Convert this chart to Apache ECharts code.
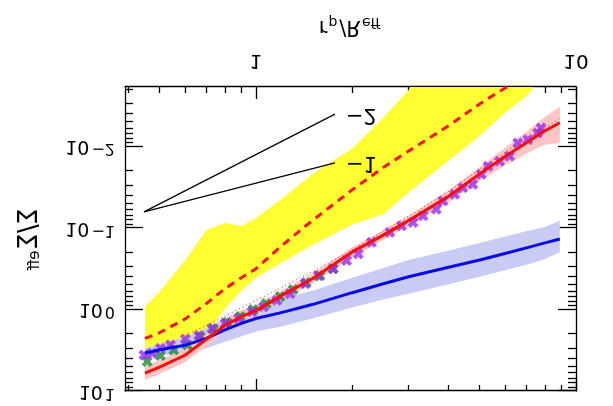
<!DOCTYPE html>
<html><head><meta charset="utf-8">
<script src="https://cdn.jsdelivr.net/npm/echarts@6/dist/echarts.min.js"></script>
<style>html,body{margin:0;padding:0;background:#fff;}#c{width:613px;height:406px;transform:scaleY(-1);}</style>
</head><body><div id="c"></div>
<script>
// ---- data ----
const xRange = [0.39, 10];
const yRange = [0.001854, 10];
const xTickMajor = [1, 10];
const xTickMinor = [0.4,0.5,0.6,0.7,0.8,0.9,2,3,4,5,6,7,8,9];
const yTickMajor = [0.01, 0.1, 1, 10];
const yTickMinor = [0.002,0.003,0.004,0.005,0.006,0.007,0.008,0.009,
  0.02,0.03,0.04,0.05,0.06,0.07,0.08,0.09,0.2,0.3,0.4,0.5,0.6,0.7,0.8,0.9,2,3,4,5,6,7,8,9];
const curveX = [0.45,0.5,0.6,0.7,0.8,0.9,1.0,1.2,1.5,2,2.5,3,4,5,6,7,8,8.9];
const redSolid = [6.03,5.10,3.64,2.32,1.57,1.22,1.03,0.675,0.419,0.196,0.122,0.081,0.0407,0.0216,0.01324,0.00894,0.00638,0.00510];
const redLo = [4.95,4.19,2.99,1.91,1.32,1.03,0.893,0.586,0.364,0.171,0.106,0.0705,0.0344,0.0178,0.0103,0.00656,0.00431,0.00323];
const redHi = [7.34,6.19,4.43,2.82,1.85,1.44,1.18,0.776,0.482,0.226,0.140,0.0933,0.0482,0.0263,0.0171,0.01216,0.00946,0.00901];
const blueSolid = [3.44,3.12,2.75,2.26,1.78,1.48,1.29,1.09,0.869,0.621,0.482,0.396,0.303,0.246,0.205,0.175,0.152,0.136];
const blueLo = [2.99,2.64,2.19,1.71,1.27,1.03,0.893,0.735,0.586,0.407,0.308,0.246,0.188,0.152,0.127,0.109,0.0973,0.0815];
const blueHi = [3.96,3.69,3.44,2.99,2.49,2.14,1.86,1.61,1.29,0.946,0.755,0.638,0.489,0.395,0.330,0.282,0.239,0.198];
const dashedX = [0.45,0.5,0.6,0.7,0.8,0.9,1.0,1.2,1.5,2,2.5,3,4,5,6,7];
const redDashed = [2.26,1.93,1.31,0.845,0.555,0.407,0.316,0.166,0.081,0.0339,0.0180,0.01135,0.00554,0.00299,0.00191,0.00129];
const dottedX = [0.6,0.7,0.8,0.9,1.0,1.2,1.5,2,2.5,3,4,5,6,7,8,8.9];
const redDotted = [2.075,1.567,1.217,0.945,0.777,0.539,0.344,0.1855,0.1088,0.0714,0.0354,0.01906,0.01184,0.00798,0.00586,0.00456];
const yellowLoX = [0.45,0.5,0.6,0.7,0.8,0.9,1.0,1.2,1.5,2,2.5,3,3.3];
const yellowLo = [0.919,0.603,0.252,0.106,0.0869,0.0946,0.0755,0.0443,0.0219,0.01057,0.00443,0.00202,0.00132];
const yellowHiX = [0.45,0.5,0.6,0.7,0.8,0.9,1.0,1.2,1.5,2,2.5,3,4,5,6,7,8];
const yellowHi = [3.74,3.34,2.67,2.02,0.972,0.586,0.407,0.267,0.161,0.0906,0.0675,0.0364,0.01482,0.00734,0.00385,0.00239,0.00132];
const purpleX = [0.447,0.474,0.503,0.541,0.602,0.663,0.729,0.802,0.883,0.972,1.056,1.163,1.279,1.425,1.567,1.745,1.920,2.088,2.297,2.620,2.849,3.097,3.328,3.661,3.84,4.18,4.43,4.76,5.06,5.31,5.77,6.20,6.58,7.07,7.59,7.78];
const purpleY = [3.61,3.44,2.99,2.72,2.30,2.09,1.71,1.48,1.29,1.067,0.927,0.770,0.638,0.482,0.382,0.316,0.2505,0.2075,0.1494,0.1127,0.0937,0.0852,0.0708,0.0586,0.0465,0.0385,0.0319,0.0290,0.0219,0.0174,0.0151,0.01312,0.00902,0.00822,0.00681,0.00591];
const greenX = [0.4575,0.503,0.554,0.610,0.671,0.738,0.812,0.894,0.981,1.077,1.190,1.307,1.435,1.585,1.741];
const greenY = [4.345,3.67,3.135,2.72,2.153,1.738,1.44,1.217,1.0,0.845,0.694,0.570,0.469,0.385,0.316];
const slopeX = [0.447, 1.766];
const slope1Y = [0.0632, 0.0158];
const slope2Y = [0.0632, 0.00399];
const slopeLabels = ['\u22121', '\u22122'];
const xTitle = ['r', 'p', '/', 'R', 'eff'];
const yTitle = ['\u03A3', '/', '\u03A3', 'eff'];

// ---- chart ----
const L = Math.log10;
const FF = 'DejaVu Sans';
const pts = (xs, ys) => xs.map((x, i) => [L(x), L(ys[i])]);
const BLACK = '#000';

function xAx(pos, vals, len, showLabel, showLine, extra) {
  return Object.assign({
    type: 'value', min: L(xRange[0]), max: L(xRange[1]), position: pos,
    axisLine: { show: showLine, onZero: false, lineStyle: { color: BLACK, width: 1.3 } },
    axisTick: { show: true, inside: true, length: len, customValues: vals.map(L), lineStyle: { color: BLACK, width: 1.3 } },
    axisLabel: showLabel ? {
      show: true, customValues: vals.map(L), margin: 17, color: BLACK, fontFamily: FF, fontSize: 20,
      formatter: v => String(Math.round(Math.pow(10, v)))
    } : { show: false },
    splitLine: { show: false }
  }, extra || {});
}
function yAx(pos, vals, len, showLabel, showLine, extra) {
  return Object.assign({
    type: 'value', min: L(yRange[0]), max: L(yRange[1]), position: pos,
    axisLine: { show: showLine, onZero: false, lineStyle: { color: BLACK, width: 1.3 } },
    axisTick: { show: true, inside: true, length: len, customValues: vals.map(L), lineStyle: { color: BLACK, width: 1.3 } },
    axisLabel: showLabel ? {
      show: true, customValues: vals.map(L), margin: 10, color: BLACK, fontFamily: FF,
      formatter: v => { const e = Math.round(v); return '{b|10}{e|' + (e < 0 ? '\u2212' + (-e) : e) + '}'; },
      rich: {
        b: { fontSize: 19, fontFamily: FF, color: BLACK, verticalAlign: 'bottom', lineHeight: 20, padding: [6, 0, 0, 0] },
        e: { fontSize: 16, fontFamily: FF, color: BLACK, verticalAlign: 'top', lineHeight: 17, padding: [0, 0, 0, 2] }
      }
    } : { show: false },
    splitLine: { show: false }
  }, extra || {});
}

const titleRich = {
  a: { fontSize: 21, fontFamily: FF, color: BLACK, verticalAlign: 'top', lineHeight: 22 },
  s: { fontSize: 14, fontFamily: FF, color: BLACK, verticalAlign: 'bottom', lineHeight: 14, padding: [14, 2, 0, 1] },
  g: { fontSize: 26, fontFamily: FF, color: BLACK, verticalAlign: 'top', lineHeight: 26 },
  t: { fontSize: 15, fontFamily: FF, color: BLACK, verticalAlign: 'bottom', lineHeight: 15, padding: [14, 0, 0, 1] }
};
const xName = '{a|' + xTitle[0] + '}{s|' + xTitle[1] + '}{a|' + xTitle[2] + '}{a|' + xTitle[3] + '}{s|' + xTitle[4] + '}';
const yName = '{g|' + yTitle[0] + '}{g|' + yTitle[1] + '}{g|' + yTitle[2] + '}{t|' + yTitle[3] + '}';

function band(name, loX, lo, hiX, hi, color) {
  const lowP = pts(loX, lo), highP = pts(hiX, hi);
  return {
    type: 'custom', name, clip: true, silent: true,
    data: [lowP[0]],
    renderItem: (params, api) => {
      const poly = highP.map(p => api.coord(p)).concat(lowP.slice().reverse().map(p => api.coord(p)));
      return { type: 'polygon', shape: { points: poly }, style: { fill: color } };
    }
  };
}
const xSym = 'path://M0,2.6 L2.6,0 L5,2.4 L7.4,0 L10,2.6 L7.6,5 L10,7.4 L7.4,10 L5,7.6 L2.6,10 L0,7.4 L2.4,5 Z';

const chart = echarts.init(document.getElementById('c'), null, { renderer: 'canvas' });
chart.setOption({
  animation: false,
  backgroundColor: '#fff',
  grid: { left: 125, right: 37, top: 13, bottom: 87 },
  xAxis: [
    xAx('bottom', xTickMajor, 12, true, true, { name: xName, nameLocation: 'middle', nameGap: 50, nameTextStyle: { rich: titleRich } }),
    xAx('bottom', xTickMinor, 6, false, false),
    xAx('top', xTickMajor, 12, false, true),
    xAx('top', xTickMinor, 6, false, false)
  ],
  yAxis: [
    yAx('left', yTickMajor, 18, true, true, { name: yName, nameLocation: 'middle', nameGap: 82, nameRotate: 90, nameTextStyle: { rich: titleRich } }),
    yAx('left', yTickMinor, 8, false, false),
    yAx('right', yTickMajor, 18, false, true),
    yAx('right', yTickMinor, 8, false, false)
  ],
  series: [
    band('yellow', yellowLoX, yellowLo, yellowHiX, yellowHi, '#ffff33'),
    band('blueBand', curveX, blueLo, curveX, blueHi, '#c9cbf4'),
    band('redBand', curveX, redLo, curveX, redHi, '#ffc4c4'),
    { type: 'line', name: 'dashed', data: pts(dashedX, redDashed), showSymbol: false, clip: true,
      lineStyle: { color: '#ff1010', width: 3, type: [8, 6] } },
    { type: 'line', name: 'dotted', data: pts(dottedX, redDotted), showSymbol: false, clip: true,
      lineStyle: { color: '#ff2020', width: 1, type: [1, 3] } },
    { type: 'scatter', name: 'green', data: pts(greenX, greenY), symbol: xSym, symbolSize: 11,
      itemStyle: { color: '#1c8c30' } },
    { type: 'scatter', name: 'purple', data: pts(purpleX, purpleY), symbol: xSym, symbolSize: 11,
      itemStyle: { color: '#9a2cf0' } },
    { type: 'line', name: 'blue', data: pts(curveX, blueSolid), showSymbol: false, clip: true,
      lineStyle: { color: '#0a0ae6', width: 3 } },
    { type: 'line', name: 'red', data: pts(curveX, redSolid), showSymbol: false, clip: true,
      lineStyle: { color: '#ff0a0a', width: 3 } },
    { type: 'line', name: 'slope1', data: pts(slopeX, slope1Y), showSymbol: false,
      lineStyle: { color: BLACK, width: 1.2 },
      endLabel: { show: true, formatter: slopeLabels[0], distance: 11, color: BLACK, fontFamily: FF, fontSize: 21 } },
    { type: 'line', name: 'slope2', data: pts(slopeX, slope2Y), showSymbol: false,
      lineStyle: { color: BLACK, width: 1.2 },
      endLabel: { show: true, formatter: slopeLabels[1], distance: 11, color: BLACK, fontFamily: FF, fontSize: 21 } }
  ]
});
</script></body></html>
